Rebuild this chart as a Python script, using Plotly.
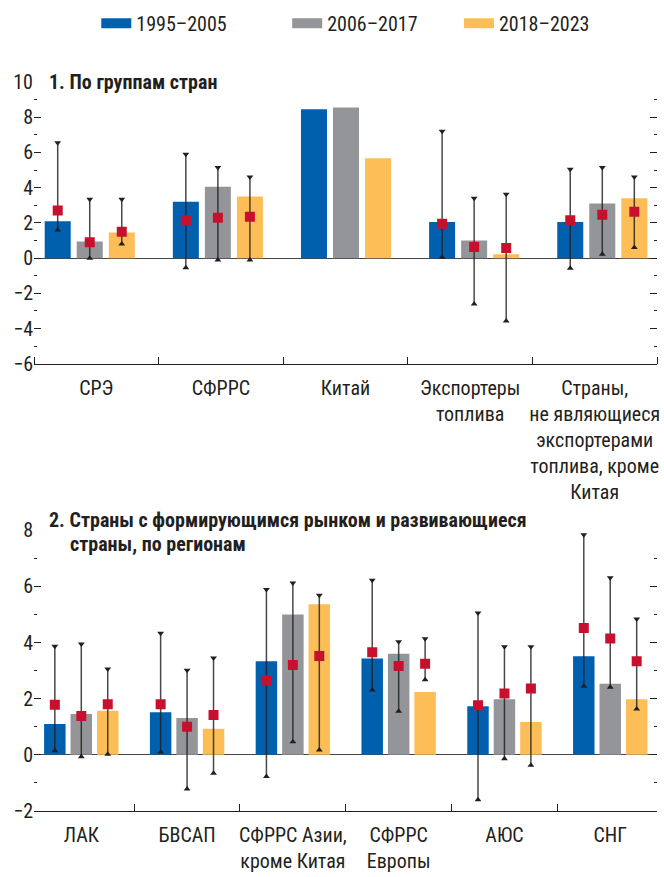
import plotly.graph_objects as go

# ---------------- data ----------------
periods = ["1995–2005", "2006–2017", "2018–2023"]
colors = ["#0060AE", "#939598", "#FDBE57"]

groups_1 = ["СРЭ", "СФРРС", "Китай", "Экспортеры<br>топлива",
            "Страны,<br>не являющиеся<br>экспортерами<br>топлива, кроме<br>Китая"]
bars_1_a = [2.1, 3.2, 8.45, 2.05, 2.05]
bars_1_b = [0.95, 4.05, 8.55, 1.0, 3.1]
bars_1_c = [1.45, 3.5, 5.67, 0.22, 3.4]
med_1_a = [2.7, 2.15, None, 1.95, 2.15]
med_1_b = [0.9, 2.3, None, 0.63, 2.46]
med_1_c = [1.5, 2.35, None, 0.57, 2.63]
hi_1_a = [6.55, 5.9, None, 7.2, 5.04]
hi_1_b = [3.35, 5.15, None, 3.4, 5.15]
hi_1_c = [3.35, 4.6, None, 3.63, 4.6]
lo_1_a = [1.6, -0.55, None, 0.05, -0.57]
lo_1_b = [0.0, -0.1, None, -2.6, 0.22]
lo_1_c = [0.8, -0.1, None, -3.57, 0.6]

groups_2 = ["ЛАК", "БВСАП", "СФРРС Азии,<br>кроме Китая", "СФРРС<br>Европы", "АЮС", "СНГ"]
bars_2_a = [1.1, 1.52, 3.33, 3.43, 1.73, 3.51]
bars_2_b = [1.45, 1.31, 5.0, 3.6, 1.98, 2.53]
bars_2_c = [1.57, 0.93, 5.36, 2.24, 1.17, 1.98]
med_2_a = [1.78, 1.8, 2.65, 3.65, 1.77, 4.52]
med_2_b = [1.38, 1.0, 3.2, 3.16, 2.18, 4.14]
med_2_c = [1.8, 1.42, 3.52, 3.24, 2.36, 3.33]
hi_2_a = [3.87, 4.33, 5.89, 6.22, 5.05, 7.84]
hi_2_b = [3.95, 3.01, 6.12, 4.03, 3.85, 6.31]
hi_2_c = [3.06, 3.45, 5.68, 4.13, 3.85, 4.84]
lo_2_a = [0.15, 0.1, -0.77, 2.31, -1.6, 2.44]
lo_2_b = [-0.07, -1.22, 0.47, 1.55, -0.14, 2.41]
lo_2_c = [0.02, -0.66, 0.17, 2.67, -0.37, 1.63]

title_1 = "1. По группам стран"
title_2a = "2. Страны с формирующимся рынком и развивающиеся"
title_2b = "страны, по регионам"

# ---------------- style ----------------
FONT = "Liberation Sans Narrow, Arial Narrow, Roboto Condensed, Liberation Sans, sans-serif"
INK = "#231F20"
SLOT = 0.25      # distance between neighbouring bars within a group
BAR_W = 0.203    # bar width in category units

fig = go.Figure()

panels = [
    dict(xa="x", ya="y", groups=groups_1,
         bars=[bars_1_a, bars_1_b, bars_1_c],
         med=[med_1_a, med_1_b, med_1_c],
         hi=[hi_1_a, hi_1_b, hi_1_c],
         lo=[lo_1_a, lo_1_b, lo_1_c]),
    dict(xa="x2", ya="y2", groups=groups_2,
         bars=[bars_2_a, bars_2_b, bars_2_c],
         med=[med_2_a, med_2_b, med_2_c],
         hi=[hi_2_a, hi_2_b, hi_2_c],
         lo=[lo_2_a, lo_2_b, lo_2_c]),
]

for p in panels:
    n = len(p["groups"])
    for k in range(3):
        xs = [i + (k - 1) * SLOT for i in range(n)]
        fig.add_trace(go.Bar(
            x=xs, y=p["bars"][k], width=BAR_W,
            marker=dict(color=colors[k], line=dict(width=0)),
            xaxis=p["xa"], yaxis=p["ya"], showlegend=False, hoverinfo="skip"))
    # whiskers (range lines with triangle caps)
    for k in range(3):
        wx, wy, sym = [], [], []
        for i in range(n):
            lo, hi = p["lo"][k][i], p["hi"][k][i]
            if lo is None or hi is None:
                continue
            xc = i + (k - 1) * SLOT
            wx += [xc, xc, None]
            wy += [lo, hi, None]
            sym += ["triangle-up", "triangle-down", "circle"]
        fig.add_trace(go.Scatter(
            x=wx, y=wy, mode="lines+markers",
            line=dict(color="rgba(35,31,32,0.82)", width=1.5),
            marker=dict(symbol=sym, size=6, color=INK, line=dict(width=0)),
            xaxis=p["xa"], yaxis=p["ya"], showlegend=False, hoverinfo="skip",
            connectgaps=False))
    # median markers
    for k in range(3):
        xs = [i + (k - 1) * SLOT for i in range(n)]
        fig.add_trace(go.Scatter(
            x=xs, y=p["med"][k], mode="markers",
            marker=dict(symbol="square", size=10, color="#C8102E", line=dict(width=0)),
            xaxis=p["xa"], yaxis=p["ya"], showlegend=False, hoverinfo="skip"))

# empty trace so the panel-1 label axis (x3) is created
fig.add_trace(go.Scatter(x=[None], y=[None], xaxis="x3", yaxis="y",
                         showlegend=False, hoverinfo="skip"))

# legend entries: one per period, each in its own legend box
legend_names = ["legend", "legend2", "legend3"]
for k in range(3):
    fig.add_trace(go.Scatter(
        x=[None], y=[None], mode="lines", name=periods[k],
        line=dict(color=colors[k], width=10),
        legend=legend_names[k], showlegend=True, xaxis="x", yaxis="y"))

legend_x = [0.1, 0.4064, 0.6821]
legend_common = dict(orientation="h", yanchor="middle", y=1.0805, xanchor="left",
                     bgcolor="rgba(0,0,0,0)", font=dict(family=FONT, size=20, color=INK),
                     itemclick=False, itemdoubleclick=False)

yaxis_common = dict(
    showgrid=False, zeroline=True, zerolinecolor="#444444", zerolinewidth=1.2,
    showline=False, ticks="inside", ticklen=7, tickwidth=1.2, tickcolor=INK,
    mirror="ticks", tickfont=dict(family=FONT, size=20, color=INK),
    minor=dict(ticks="inside", ticklen=3, tickwidth=1.2, tickcolor=INK, dtick=1),
    fixedrange=True,
)
xaxis_common = dict(
    showgrid=False, zeroline=False, showline=True, linecolor=INK, linewidth=1.2,
    ticks="", tickfont=dict(family=FONT, size=20, color=INK),
    minor=dict(ticks="inside", ticklen=7, tickwidth=1.2, tickcolor=INK,
               tick0=0.5, dtick=1),
    ticklabelstandoff=6, ticklabeloverflow="allow", fixedrange=True,
)

fig.update_layout(
    width=664, height=877,
    margin=dict(l=34, r=4, t=79, b=53),
    paper_bgcolor="white", plot_bgcolor="white",
    barmode="overlay",
    font=dict(family=FONT, color=INK),
    # panel 1: bars on xaxis, category labels and separators on overlaying xaxis3
    xaxis=dict(showgrid=False, zeroline=False, showline=False, ticks="",
               showticklabels=False, domain=[0, 1], anchor="y",
               range=[-0.435, 4.427], fixedrange=True),
    xaxis3=dict(xaxis_common, domain=[0, 1], anchor="y", overlaying="x",
                side="bottom", range=[-0.5, 4.5],
                tickvals=list(range(len(groups_1))), ticktext=groups_1),
    yaxis=dict(yaxis_common, domain=[0.6134, 1], anchor="x", range=[-6, 10],
               tickvals=list(range(-6, 11, 2))),
    xaxis2=dict(xaxis_common, domain=[0, 1], anchor="y2", range=[-0.447, 5.442],
                tickvals=list(range(len(groups_2))), ticktext=groups_2),
    yaxis2=dict(yaxis_common, domain=[0, 0.3852], anchor="x2", range=[-2, 8],
                tickvals=list(range(-2, 9, 2))),
    legend=dict(legend_common, x=legend_x[0]),
    legend2=dict(legend_common, x=legend_x[1]),
    legend3=dict(legend_common, x=legend_x[2]),
    annotations=[
        dict(text="<b>" + title_1 + "</b>", xref="paper", yref="paper",
             x=0.0208, y=1.0, xanchor="left", yanchor="middle", showarrow=False,
             font=dict(family=FONT, size=20, color=INK)),
        dict(text="<b>" + title_2a + "</b>", xref="paper", yref="paper",
             x=0.0208, y=0.3987, xanchor="left", yanchor="middle", showarrow=False,
             font=dict(family=FONT, size=20, color=INK)),
        dict(text="<b>" + title_2b + "</b>", xref="paper", yref="paper",
             x=0.0543, y=0.3664, xanchor="left", yanchor="middle", showarrow=False,
             font=dict(family=FONT, size=20, color=INK)),
    ],
)

fig.write_html("out.html")
